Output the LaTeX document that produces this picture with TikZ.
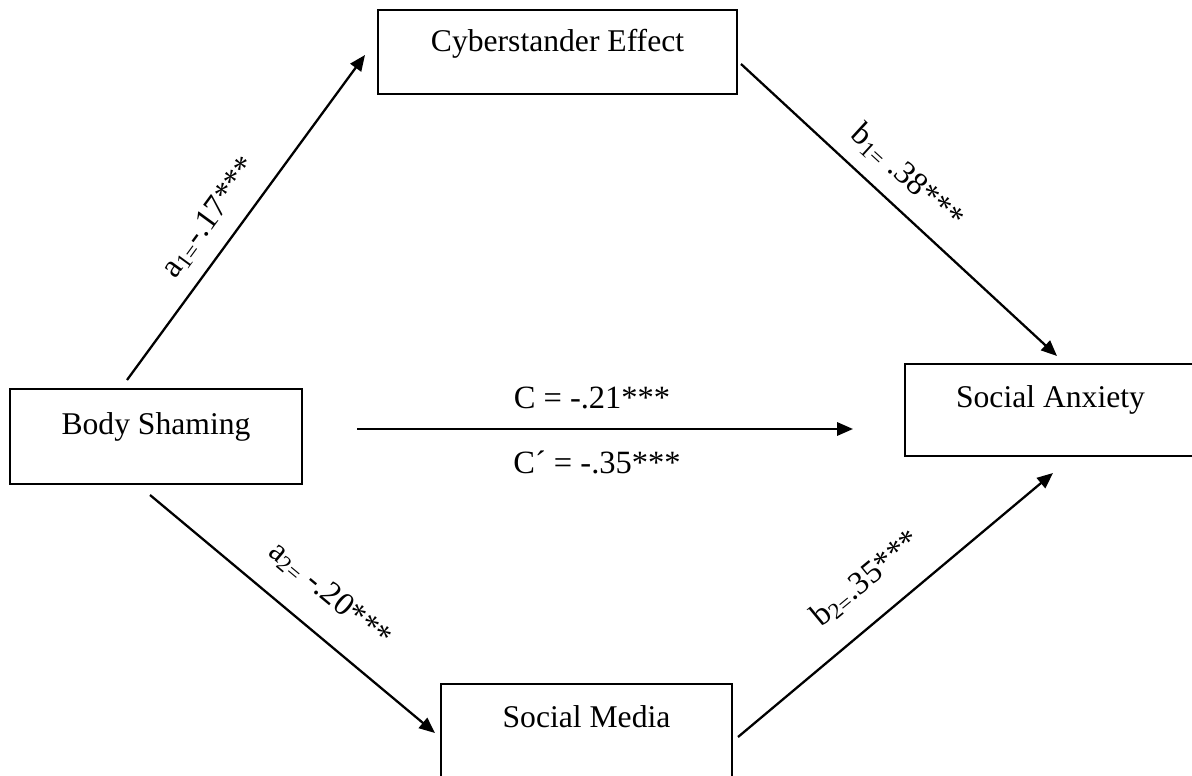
\documentclass[tikz,border=0pt]{standalone}
\usepackage{fontspec}
\setmainfont{Liberation Serif}
\usetikzlibrary{arrows.meta}

\begin{document}
\begin{tikzpicture}[x=0.02cm,y=-0.02cm,
    box/.style={draw=black,line width=1.4pt,inner sep=0pt,font=\fontsize{18}{22}\selectfont},
    arr/.style={line width=1.3pt,-{Triangle[length=9pt,width=7.5pt]}},
    coef/.style={inner sep=0pt,font=\fontsize{18.5}{22}\selectfont}]
    \useasboundingbox (0,0) rectangle (1192,776);

    \node[box,minimum width=7.18cm,text height=0.84cm,text depth=0.84cm] (CE) at (557.5,52) {Cyberstander Effect};
    \node[box,minimum width=5.84cm,text height=0.9cm,text depth=1.0cm] (BS) at (156,436.5) {Body Shaming};
    \node[box,minimum width=5.82cm,text height=0.86cm,text depth=0.98cm] (SA) at (1050.5,410) {Social Anxiety};
    \node[box,minimum width=5.82cm,text height=0.86cm,text depth=1.04cm] (SM) at (586.5,731.5) {Social Media};

    % arrow ends
    \coordinate (a1s) at (127,380);
    \coordinate (a1e) at (365,55);
    \coordinate (b1s) at (741,64);
    \coordinate (b1e) at (1057,356);
    \coordinate (cs) at (357,429);
    \coordinate (ce) at (853,429);
    \coordinate (a2s) at (150,495);
    \coordinate (a2e) at (435,733);
    \coordinate (b2s) at (738,737);
    \coordinate (b2e) at (1053,473);

    \draw[arr] (a1s) -- (a1e);
    \draw[arr] (b1s) -- (b1e);
    \draw[arr] (cs) -- (ce);
    \draw[arr] (a2s) -- (a2e);
    \draw[arr] (b2s) -- (b2e);

    \node[coef,rotate=53.8] (la1) at (210,218) {a\textsubscript{1=}-.17***};
    \node[coef,rotate=-42.5] (lb1) at (907,177) {b\textsubscript{1=} .38***};
    \node[coef,rotate=-39.8] (la2) at (330,595) {a\textsubscript{2=} -.20***};
    \node[coef,rotate=39.6] (lb2) at (866,579) {b\textsubscript{2=}.35***};
    \node[coef] (lc) at (592,398) {C = -.21***};
    \node[coef] (lcp) at (597,462) {C´ = -.35***};
\end{tikzpicture}
\end{document}
